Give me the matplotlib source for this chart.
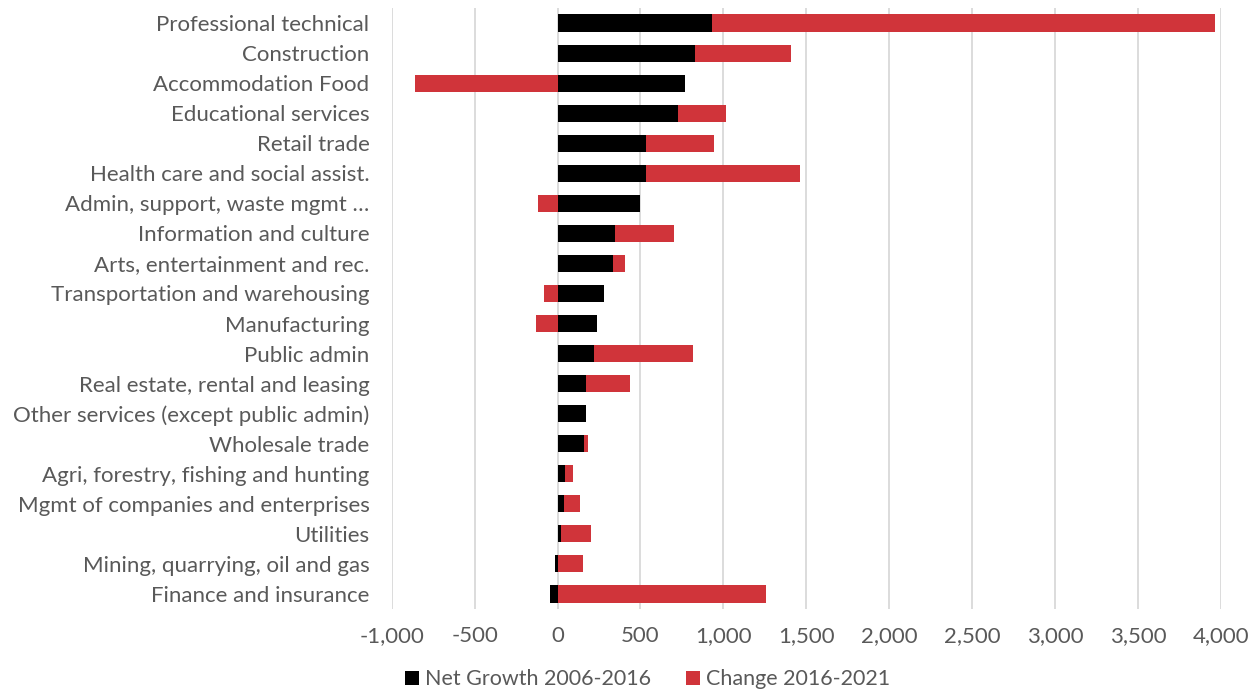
import numpy as np
import matplotlib.pyplot as plt

plt.rcParams['font.family'] = ['Lato', 'DejaVu Sans']

industries = ["Professional technical", "Construction", "Accommodation Food",
              "Educational services", "Retail trade", "Health care and social assist.",
              "Admin, support, waste mgmt …", "Information and culture",
              "Arts, entertainment and rec.", "Transportation and warehousing",
              "Manufacturing", "Public admin", "Real estate, rental and leasing",
              "Other services (except public admin)", "Wholesale trade",
              "Agri, forestry, fishing and hunting", "Mgmt of companies and enterprises",
              "Utilities", "Mining, quarrying, oil and gas", "Finance and insurance"]
net_growth = np.array([932, 829, 766, 726, 533, 533, 500, 346, 334, 281,
                       237, 217, 171, 171, 159, 44, 38, 20, -18, -46])
change = np.array([3034, 578, -861, 289, 408, 926, -119, 359, 72, -79,
                   -129, 599, 265, 0, 22, 48, 98, 183, 153, 1256])

xticks = np.arange(-1000, 4001, 500)

# excel-style stacking: positives on positives, negatives on negatives
red_left = np.where(change >= 0, np.maximum(net_growth, 0), np.minimum(net_growth, 0))

fig = plt.figure(figsize=(12.57, 6.9), dpi=100)
ax = fig.add_axes([0.3116, 0.1174, 0.6598, 0.8710])

y = np.arange(len(industries))
ax.barh(y, net_growth, height=0.57, color='black', label='Net Growth 2006-2016', zorder=3)
ax.barh(y, change, left=red_left, height=0.57, color='#D0343A',
        label='Change 2016-2021', zorder=3)

ax.set_xlim(-1000, 4000)
ax.set_ylim(len(industries) - 0.5, -0.5)
ax.set_yticks(y)
ax.set_yticklabels(industries)
ax.set_xticks(xticks)
ax.set_xticklabels(['{:,}'.format(v) for v in xticks])
ax.tick_params(axis='both', length=0, labelsize=16, colors='#595959')
ax.tick_params(axis='y', pad=16)
ax.tick_params(axis='x', pad=12)
ax.grid(axis='x', color='#d9d9d9', linewidth=1.3, zorder=0)
for s in ax.spines.values():
    s.set_visible(False)

fig.legend(loc='lower center', bbox_to_anchor=(0.515, -0.027), ncol=2, frameon=False,
           fontsize=15.5, handlelength=0.65, handleheight=0.65, handletextpad=0.3,
           columnspacing=1.6, labelcolor='#595959')

fig.savefig('out.png', dpi=100)
